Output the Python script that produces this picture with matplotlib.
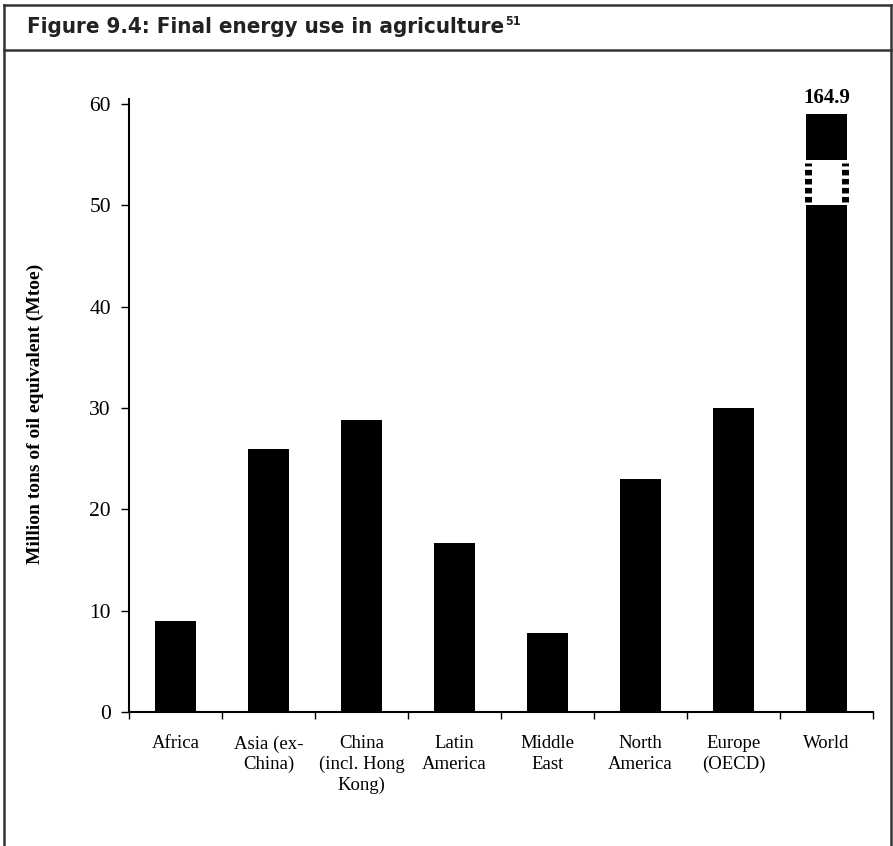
import matplotlib
matplotlib.use("Agg")
import matplotlib.pyplot as plt
from matplotlib import font_manager as fm
from matplotlib.lines import Line2D
from matplotlib.patches import Rectangle

categories = ["Africa", "Asia (ex-\nChina)", "China\n(incl. Hong\nKong)", "Latin\nAmerica",
              "Middle\nEast", "North\nAmerica", "Europe\n(OECD)", "World"]
values = [9.0, 26.0, 28.8, 16.7, 7.8, 23.0, 30.0, 164.9]
world_label = "164.9"
# axis break on the World bar (drawn in axis units)
break_low, break_high, world_drawn_top = 50.0, 54.5, 59.0
yticks = [0, 10, 20, 30, 40, 50, 60]
title_text = "Figure 9.4: Final energy use in agriculture"
title_sup = "51"
ylabel = "Million tons of oil equivalent (Mtoe)"

W, H = 893, 846
fig = plt.figure(figsize=(W / 100, H / 100), dpi=100)

serif = ["Liberation Serif", "DejaVu Serif"]


# pick a condensed bold sans font if one is installed
def find_condensed():
    best = None
    rank_st = {"condensed": 0, "semi-condensed": 1, "extra-condensed": 2}
    for f in fm.fontManager.ttflist:
        fname = f.fname.lower()
        if "mono" in fname or "serif" in fname or "italic" in fname or "oblique" in fname:
            continue
        st = str(f.stretch)
        narrow = ("narrow" in f.name.lower()) or ("condensed" in f.name.lower()) or st in rank_st
        if not narrow:
            continue
        try:
            w = int(f.weight)
        except Exception:
            w = 700 if "bold" in str(f.weight) else 400
        if w < 600 or w > 750:
            continue
        r = rank_st.get(st, 0 if "narrow" in f.name.lower() else 3)
        if "liberation" in fname:
            r -= 1
        if best is None or r < best[0]:
            best = (r, f.fname)
    return best[1] if best else None


cfile = find_condensed()
if cfile:
    tprop = fm.FontProperties(fname=cfile, size=16)
    sprop = fm.FontProperties(fname=cfile, size=9)
else:
    tprop = fm.FontProperties(family="DejaVu Sans", weight="bold", size=13)
    sprop = fm.FontProperties(family="DejaVu Sans", weight="bold", size=8)


def fx(px):
    return px / W


def fy(py):
    return 1 - py / H


# frame lines
frame_kw = dict(color="#333333", linewidth=1.8, transform=fig.transFigure)
fig.add_artist(Line2D([fx(4), fx(4)], [fy(5), 0], **frame_kw))
fig.add_artist(Line2D([fx(891), fx(891)], [fy(5), 0], **frame_kw))
fig.add_artist(Line2D([fx(4), fx(891)], [fy(5), fy(5)], **frame_kw))
fig.add_artist(Line2D([fx(4), fx(891)], [fy(50), fy(50)], **frame_kw))

title = fig.text(fx(27), fy(33), title_text, fontproperties=tprop, color="#222222",
                 va="baseline", ha="left")

ax = fig.add_axes([fx(129), (H - 712) / H, 744 / W, 608 / H])
x = list(range(len(categories)))
bw = 0.45
plot_vals = [v if v <= 60 else world_drawn_top for v in values]
ax.bar(x, plot_vals, width=bw, color="black", zorder=2)

# axis break on the World bar
iw = len(values) - 1
ax.add_patch(Rectangle((iw - bw / 2, break_low), bw, break_high - break_low,
                       facecolor="white", edgecolor="none", zorder=3))
for xe in (iw - bw / 2 + 0.03, iw + bw / 2 - 0.03):
    ax.plot([xe, xe], [break_low + 0.3, break_high - 0.3], color="black",
            linewidth=5, linestyle=(0, (0.8, 0.5)), zorder=4, solid_capstyle="butt")
ax.text(iw, world_drawn_top + 0.6, world_label, ha="center", va="bottom",
        fontsize=15, fontweight="bold", family=serif)

ax.set_xlim(-0.5, len(categories) - 0.5)
ax.set_ylim(0, 60)
for s in ("top", "right"):
    ax.spines[s].set_visible(False)
ax.spines["left"].set_linewidth(1.5)
ax.spines["bottom"].set_linewidth(1.5)
ax.spines["left"].set_bounds(0, 60.5)

ax.set_yticks(yticks)
ax.set_yticklabels([str(t) for t in yticks], family=serif, fontsize=15.5)
ax.tick_params(axis="y", direction="out", length=6, width=1, pad=7)

ax.set_xticks([i - 0.5 for i in range(len(categories) + 1)])
ax.set_xticklabels([])
ax.tick_params(axis="x", direction="out", length=5, width=1)
for i, c in enumerate(categories):
    ax.text(i, -2.3, c, ha="center", va="top", fontsize=13.5, family=serif,
            linespacing=1.25, clip_on=False)

fig.text(fx(35), fy(414), ylabel, rotation=90,
         ha="center", va="center", fontsize=14, fontweight="bold", family=serif)

# superscript after title
fig.canvas.draw()
bb = title.get_window_extent()
fig.text(bb.x1 / W + 0.001, fy(25), title_sup, fontproperties=sprop, color="#222222",
         va="baseline", ha="left")

fig.savefig("out.png", dpi=100)
